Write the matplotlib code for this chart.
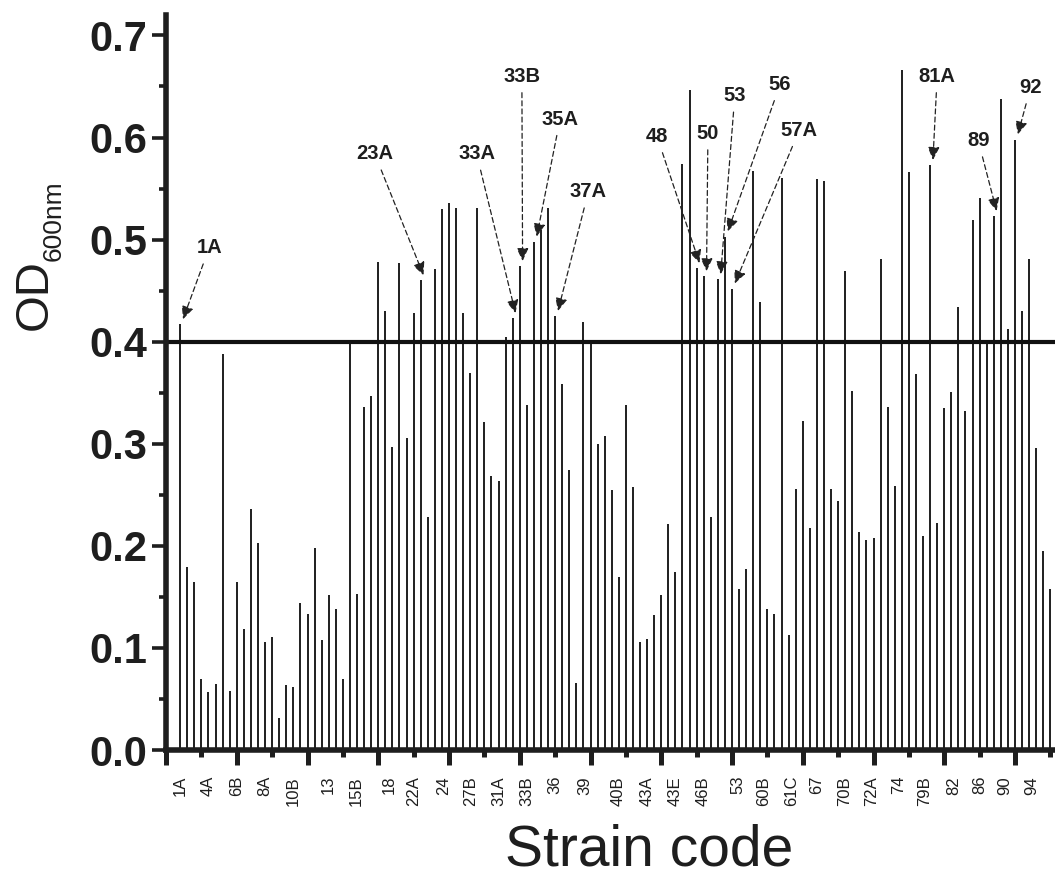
import numpy as np
import matplotlib.pyplot as plt
from matplotlib.ticker import MultipleLocator, FormatStrFormatter

plt.rcParams['font.family'] = ['Liberation Sans', 'DejaVu Sans']

# OD600 of each strain, left to right
od = [
    0.417, 0.179, 0.165, 0.070, 0.057, 0.065, 0.388, 0.058, 0.165, 0.119,
    0.236, 0.203, 0.106, 0.111, 0.031, 0.064, 0.062, 0.144, 0.133, 0.198,
    0.108, 0.152, 0.138, 0.070, 0.400, 0.153, 0.336, 0.347, 0.478, 0.430,
    0.297, 0.477, 0.306, 0.428, 0.460, 0.228, 0.471, 0.530, 0.536, 0.531,
    0.428, 0.369, 0.531, 0.321, 0.268, 0.264, 0.405, 0.423, 0.474, 0.338,
    0.498, 0.509, 0.531, 0.425, 0.359, 0.274, 0.066, 0.419, 0.398, 0.300,
    0.308, 0.255, 0.169, 0.338, 0.258, 0.106, 0.109, 0.132, 0.152, 0.221,
    0.174, 0.574, 0.647, 0.472, 0.464, 0.228, 0.461, 0.503, 0.452, 0.158,
    0.177, 0.567, 0.439, 0.138, 0.133, 0.560, 0.113, 0.256, 0.322, 0.217,
    0.559, 0.557, 0.256, 0.244, 0.469, 0.352, 0.214, 0.206, 0.208, 0.481,
    0.336, 0.259, 0.666, 0.566, 0.368, 0.210, 0.573, 0.222, 0.335, 0.351,
    0.434, 0.332, 0.519, 0.541, 0.400, 0.523, 0.638, 0.412, 0.598, 0.430,
    0.481, 0.296, 0.195, 0.158,
]

# strain codes shown under the axis
codes = ['1A', '4A', '6B', '8A', '10B', '13', '15B', '18', '22A', '24', '27B',
         '31A', '33B', '36', '39', '40B', '43A', '43E', '46B', '53', '60B',
         '61C', '67', '70B', '72A', '74', '79B', '82', '86', '90', '94']

# strains flagged above the cut-off, with the bar they point at
flagged = ['1A', '23A', '33A', '33B', '35A', '37A', '48', '50', '53', '56',
           '57A', '81A', '89', '92']
flagged_bar = [0, 34, 47, 48, 50, 53, 73, 74, 76, 77, 78, 106, 115, 118]

cutoff = 0.4

# layout (x in axis units, bar k sits at k + 2)
code_x = [1.98, 5.98, 9.99, 13.99, 17.99, 22.94, 26.95, 31.56, 34.95, 39.19,
          43.07, 46.97, 50.98, 54.98, 59.22, 63.93, 67.94, 71.94, 75.94, 80.89,
          84.42, 88.44, 91.97, 95.97, 99.75, 103.6, 107.28, 111.28, 115.05,
          118.59, 122.36]
flag_xy = [(6.1, 0.492), (29.5, 0.584), (43.9, 0.584), (50.3, 0.660),
           (55.7, 0.618), (59.7, 0.547), (69.4, 0.601), (76.6, 0.604),
           (80.4, 0.641), (86.8, 0.652), (89.5, 0.607), (109.0, 0.660),
           (114.8, 0.597), (122.2, 0.649)]

x = np.arange(len(od)) + 2

fig = plt.figure(figsize=(10.55, 8.77), dpi=100)
ax = fig.add_axes([166 / 1055, 127 / 877, 889 / 1055, 735 / 877])

ax.vlines(x, 0, od, color='#1e1e1e', linewidth=1.4)
ax.axhline(cutoff, color='#111111', linewidth=3)

for name, k, (tx, ty) in zip(flagged, flagged_bar, flag_xy):
    ax.annotate(name, xy=(x[k] + 0.4, od[k] + 0.005), xytext=(tx, ty),
                ha='center', va='center', fontsize=14.5, fontweight='bold',
                color='#1e1e1e',
                arrowprops=dict(arrowstyle='-|>,head_length=0.65,head_width=0.3',
                                mutation_scale=12, linestyle=(0, (4, 2.5)),
                                linewidth=0.9, color='#222222',
                                shrinkA=3, shrinkB=0))

# axes
ax.set_xlim(0, 889 / 7.075)
ax.set_ylim(0, 0.72)
for side in ['top', 'right']:
    ax.spines[side].set_visible(False)
for side in ['left', 'bottom']:
    ax.spines[side].set_linewidth(4)
    ax.spines[side].set_color('#1e1e1e')

ax.xaxis.set_major_locator(MultipleLocator(10))
ax.xaxis.set_minor_locator(MultipleLocator(5))
ax.tick_params(axis='x', which='major', length=11, width=3.6,
               labelbottom=False, color='#1e1e1e')
ax.tick_params(axis='x', which='minor', length=5, width=3.6, color='#1e1e1e')

ax.yaxis.set_major_locator(MultipleLocator(0.1))
ax.yaxis.set_minor_locator(MultipleLocator(0.05))
ax.yaxis.set_major_formatter(FormatStrFormatter('%.1f'))
ax.tick_params(axis='y', which='major', length=10, width=2.6, pad=3.5,
               labelsize=30, color='#1e1e1e', labelcolor='#1e1e1e')
ax.tick_params(axis='y', which='minor', length=5, width=2.6, color='#1e1e1e')
for lab in ax.get_yticklabels():
    lab.set_fontweight('bold')

for name, cx in zip(codes, code_x):
    ax.text(cx, -26 / 735, name, transform=ax.get_xaxis_transform(),
            rotation=90, ha='center', va='top', fontsize=12, color='#1e1e1e')

# y label: OD with subscript
fig.text(47 / 1055, 1 - 295 / 877, 'OD', rotation=90, rotation_mode='anchor',
         ha='center', va='baseline', fontsize=34, color='#1e1e1e')
fig.text(61 / 1055, 1 - 221 / 877, '600nm', rotation=90, rotation_mode='anchor',
         ha='center', va='baseline', fontsize=19, color='#1e1e1e')

fig.text(649 / 1055, 12 / 877, 'Strain code', ha='center', va='baseline',
         fontsize=41, color='#1e1e1e')

fig.savefig('out.png', dpi=100)
